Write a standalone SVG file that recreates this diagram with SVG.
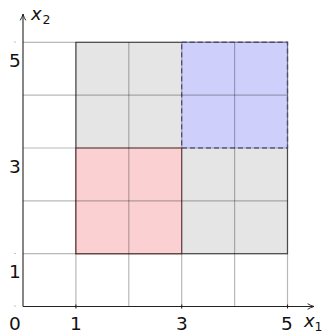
<svg xmlns="http://www.w3.org/2000/svg" width="325" height="335" viewBox="0 0 325 335">
<defs>
<style>
.grid{stroke:#000;stroke-opacity:0.28;stroke-width:1.2;fill:none}
.axis{stroke:#222;stroke-width:1.1;fill:none}
.lbl{font-family:"DejaVu Sans","Liberation Sans",sans-serif;font-size:18.5px;fill:#111;text-anchor:middle}
.var{font-family:"DejaVu Sans","Liberation Sans",sans-serif;font-size:18px;font-style:italic;fill:#111}
.sub{font-family:"DejaVu Sans","Liberation Sans",sans-serif;font-size:12.5px;fill:#111}
</style>
<marker id="arr" viewBox="0 0 10 10" refX="9" refY="5" markerWidth="8" markerHeight="8" markerUnits="userSpaceOnUse" orient="auto">
<path d="M1,1.5 Q5,4 9,5 Q5,6 1,8.5" fill="none" stroke="#222" stroke-width="1.2"/>
</marker>
</defs>
<rect width="325" height="335" fill="#fff"/>
<g id="region-gray"><rect x="75.9" y="42.3" width="211.6" height="211.4" fill="#e5e5e5" stroke="#666" stroke-width="1.2"/></g>
<g id="region-red"><rect x="75.9" y="148" width="105.8" height="105.7" fill="#fbd0d3" stroke="#8a5a5a" stroke-width="1.2"/></g>
<g id="region-blue"><rect x="181.7" y="42.3" width="105.8" height="105.7" fill="#cfcffb" stroke="#6a6a9a" stroke-width="1.4" stroke-dasharray="5,3"/></g>
<g id="grid" class="grid">
<path d="M75.9,42.3V306.5M128.8,42.3V306.5M181.7,42.3V306.5M234.6,42.3V306.5M287.5,42.3V306.5"/>
<path d="M23,42.3H287.5M23,95.1H287.5M23,148H287.5M23,200.8H287.5M23,253.7H287.5"/>
</g>
<g id="connectors">
<line class="axis" x1="23" y1="306.5" x2="314" y2="306.5" marker-end="url(#arr)"/>
<line class="axis" x1="23" y1="306.5" x2="23" y2="14" marker-end="url(#arr)"/>
<path d="M75.9,304.5V308.5M181.7,304.5V308.5M287.5,304.5V308.5" stroke="#222" stroke-width="1.1"/>
<g fill="#888"><rect x="14.5" y="41.5" width="1" height="1"/><rect x="14.5" y="253" width="1" height="1"/><rect x="14.5" y="305.5" width="1" height="1"/></g>
</g>
<g id="labels">
<text class="lbl" x="15" y="330">0</text>
<text class="lbl" x="76" y="330">1</text>
<text class="lbl" x="182" y="330">3</text>
<text class="lbl" x="287" y="330">5</text>
<text class="lbl" x="15" y="67">5</text>
<text class="lbl" x="15" y="173">3</text>
<text class="lbl" x="15" y="278">1</text>
<text class="var" x="304" y="327">x</text><text class="sub" x="314.5" y="331">1</text>
<text class="var" x="31" y="20">x</text><text class="sub" x="42.5" y="24">2</text>
</g>
</svg>
